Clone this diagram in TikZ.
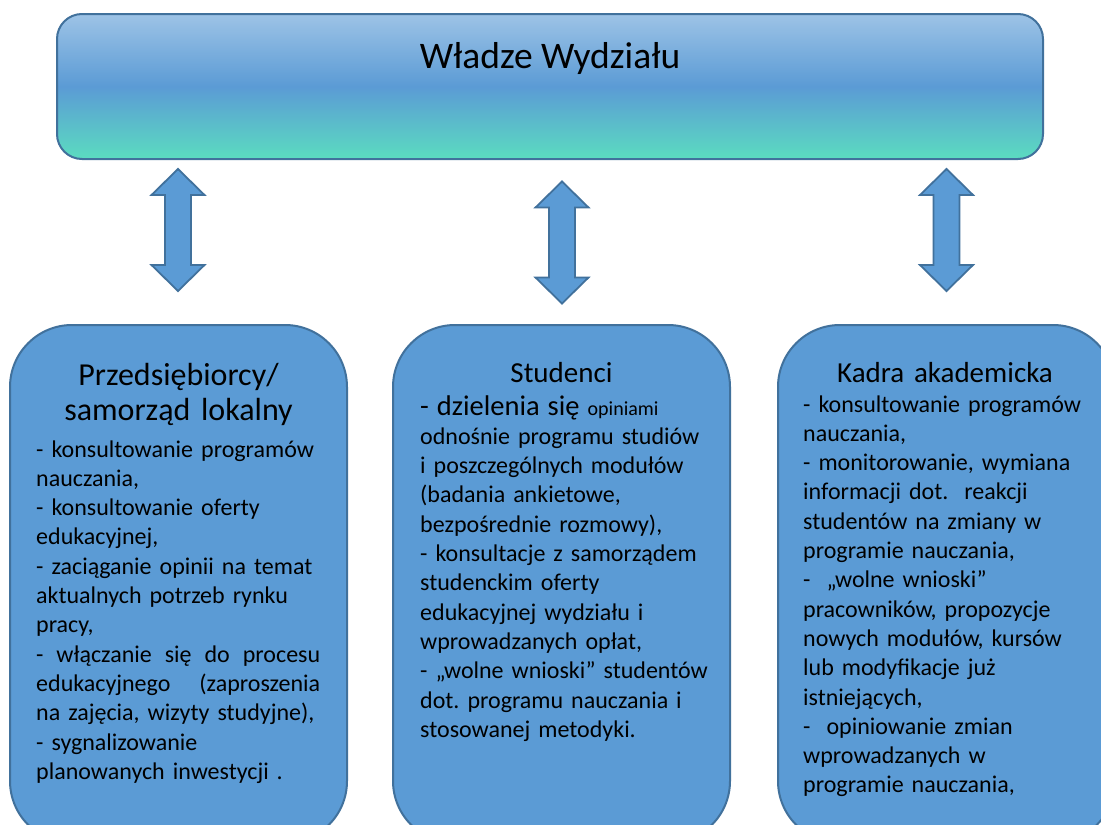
\documentclass[tikz,border=0pt]{standalone}
\usepackage{fontspec}
\setmainfont{Carlito}
\frenchspacing
\definecolor{boxfill}{HTML}{5B9BD5}
\definecolor{boxline}{HTML}{41719C}
\definecolor{gtop}{HTML}{9DC3E6}
\definecolor{gmid}{HTML}{5B9BD5}
\definecolor{gbot}{HTML}{5BDCC0}
\tikzset{
  topbox/.style={draw=boxline, line width=2pt, rounded corners=25pt,
    top color=gtop, bottom color=gbot, middle color=gmid,
    minimum width=986pt, minimum height=145pt, inner sep=0pt},
  groupbox/.style={draw=boxline, line width=2pt, fill=boxfill, rounded corners=62pt,
    minimum width=337pt, minimum height=518pt, inner sep=0pt},
  arrowstyle/.style={draw=boxline, line width=1.8pt, fill=boxfill, line join=miter},
  pics/dblarrow/.style={code={
    \draw[arrowstyle] (0,-61) -- (26.5,-35) -- (13,-35) -- (13,35) -- (26.5,35)
      -- (0,61) -- (-26.5,35) -- (-13,35) -- (-13,-35) -- (-26.5,-35) -- cycle;}},
  bodytext/.style={anchor=base west, inner sep=0pt, align=left,
    font=\frenchspacing\fontsize{24}{29.3}\selectfont},
  titletext/.style={anchor=base, inner sep=0pt, align=center, text width=320pt,
    font=\fontsize{29}{33}\selectfont},
}
\begin{document}
\begin{tikzpicture}[x=1pt,y=-1pt]
\useasboundingbox (0,0) rectangle (1101,825);
\fill[white] (0,0) rectangle (1101,825);
\clip (0,0) rectangle (1101,825);
% top box
\node[topbox] (wladze) at (550,86.5) {};
\node[anchor=base, inner sep=0pt, font=\fontsize{37.5}{40}\selectfont] (wladzeT) at (550,68) {Władze Wydziału};
% arrows
\pic (arrL) at (178,230) {dblarrow};
\pic (arrM) at (562,242.5) {dblarrow};
\pic (arrR) at (946.5,230) {dblarrow};
% bottom boxes
\node[groupbox] (przed) at (178.5,584) {};
\node[groupbox] (stud) at (561.5,584) {};
\node[groupbox] (kadra) at (946.5,584) {};
% titles
\node[titletext, font=\fontsize{32}{35}\selectfont] (przedT) at (178.5,385) {Przedsiębiorcy/\\samorząd lokalny};
\node[titletext] (studT) at (561.5,382) {Studenci};
\node[titletext] (kadraT) at (945,382) {Kadra akademicka};
% bodies
\node[bodytext, text width=284pt] (przedB) at (36,457) {%
- konsultowanie programów\\
nauczania,\\
- konsultowanie oferty\\
edukacyjnej,\\
- zaciąganie opinii na temat\\
aktualnych potrzeb rynku\\
pracy,\\
\leavevmode\hbox to 284pt{- \hfill włączanie \hfill się \hfill do \hfill procesu}\\
\leavevmode\hbox to 284pt{edukacyjnego \hfill (zaproszenia}\\
na zajęcia, wizyty studyjne),\\
- sygnalizowanie\\
planowanych inwestycji .};
\node[bodytext, text width=300pt] (studB) at (420,415) {%
{\fontsize{28.5}{29.3}\selectfont - dzielenia się} {\fontsize{20}{29.3}\selectfont opiniami}\\
odnośnie programu studiów\\
i poszczególnych modułów\\
(badania ankietowe,\\
bezpośrednie rozmowy),\\
- konsultacje z samorządem\\
studenckim oferty\\
edukacyjnej wydziału i\\
wprowadzanych opłat,\\
- „wolne wnioski” studentów\\
dot. programu nauczania i\\
stosowanej metodyki.};
\node[bodytext, text width=290pt] (kadraB) at (803,412) {%
- konsultowanie programów\\
nauczania,\\
- monitorowanie, wymiana\\
informacji dot.\ \ reakcji\\
studentów na zmiany w\\
programie nauczania,\\
-\ \ „wolne wnioski”\\
pracowników, propozycje\\
nowych modułów, kursów\\
lub modyfikacje już\\
istniejących,\\
-\ \ opiniowanie zmian\\
wprowadzanych w\\
programie nauczania,};
\end{tikzpicture}
\end{document}
